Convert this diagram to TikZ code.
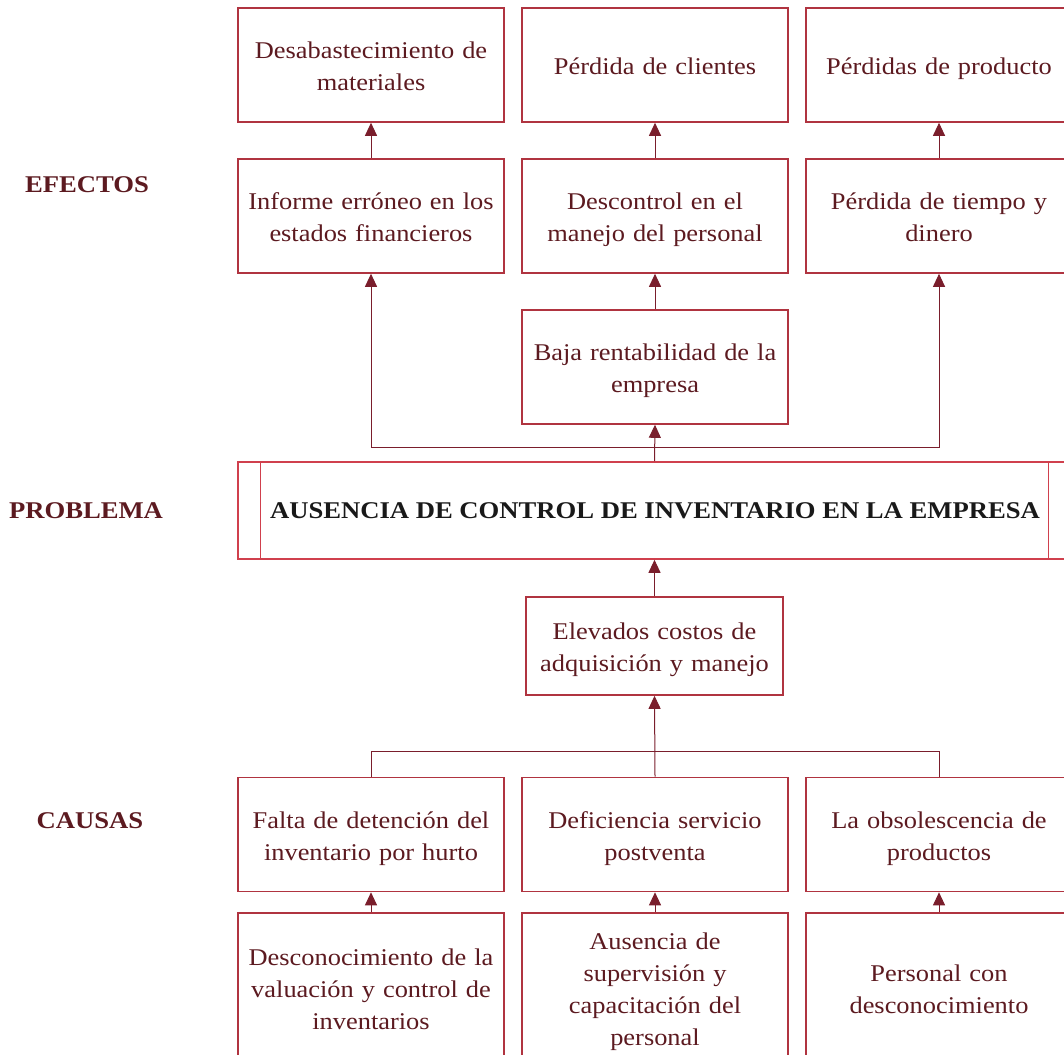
\documentclass[tikz,border=0pt]{standalone}
\usepackage{fontspec}
\setmainfont{Liberation Serif}
\newfontfamily\bodyf[FakeStretch=1.1]{Liberation Serif}
\newfontfamily\capf[FakeStretch=1.11]{Liberation Serif}
\usetikzlibrary{arrows.meta}
\definecolor{boxc}{HTML}{B03440}
\definecolor{probc}{HTML}{D0404D}
\definecolor{linec}{HTML}{7A1E2C}
\definecolor{txtc}{HTML}{5C1A20}
\tikzset{
  x=1pt,y=-1pt,
  bx/.style={draw=boxc,line width=1.6pt,minimum width=266pt,minimum height=114pt,
     text width=262pt,align=center,text=txtc,inner sep=0pt,
     font=\bodyf\fontsize{24}{32}\selectfont,
     execute at begin node={\rule{0pt}{29pt}}, execute at end node=\strut},
  conn/.style={draw=linec,line width=1pt},
  arr/.style={conn,-{Triangle[width=12pt,length=13pt]}},
  lbl/.style={text=txtc,font=\capf\fontsize{24}{28}\selectfont\bfseries},
}
\begin{document}
\begin{tikzpicture}
\useasboundingbox (0,0) rectangle (1064,1054);
\clip (0,0) rectangle (1064,1054);
% top row
\node[bx] (desab) at (371,65) {Desabastecimiento de\\materiales};
\node[bx] (clien) at (655,65) {Pérdida de clientes};
\node[bx] (prod) at (939,65) {Pérdidas de producto};
% second row
\node[bx] (inf) at (371,216) {Informe erróneo en los\\estados financieros};
\node[bx] (descon) at (655,216) {Descontrol en el\\manejo del personal};
\node[bx] (tiempo) at (939,216) {Pérdida de tiempo y\\dinero};
% baja
\node[bx] (baja) at (655,367) {Baja rentabilidad de la\\empresa};
% problem
\node[draw=probc,line width=1.6pt,minimum width=833pt,minimum height=97pt,inner sep=0pt] (prob) at (654.5,510.5) {};
\draw[draw=probc,line width=1.2pt] ([xshift=23pt]prob.north west) -- ([xshift=23pt]prob.south west);
\draw[draw=probc,line width=1.2pt] ([xshift=-23pt]prob.north east) -- ([xshift=-23pt]prob.south east);
\node[text=black!90,font=\capf\fontsize{24}{28}\selectfont\bfseries] (probt) at (655,511) {AUSENCIA DE CONTROL DE INVENTARIO EN LA EMPRESA};
% elevados
\node[bx,minimum width=257pt,text width=250pt,minimum height=98pt] (elev) at (654.5,646) {Elevados costos de\\adquisición y manejo};
% causes
\node[bx] (falta) at (371,834.5) {Falta de detención del\\inventario por hurto};
\node[bx] (defic) at (655,834.5) {Deficiencia servicio\\postventa};
\node[bx] (obs) at (939,834.5) {La obsolescencia de\\productos};
% bottom row
\node[bx,minimum height=150pt] (desc) at (371,988) {Desconocimiento de la\\valuación y control de\\inventarios};
\node[bx,minimum height=150pt] (ause) at (655,988) {Ausencia de\\supervisión y\\capacitación del\\personal};
\node[bx,minimum height=150pt] (pers) at (939,988) {Personal con\\desconocimiento};
% labels
\node[lbl] (lefe) at (87,185) {EFECTOS};
\node[lbl] (lpro) at (86,511) {PROBLEMA};
\node[lbl] (lcau) at (90,821) {CAUSAS};
% connectors effects
\draw[arr] (inf.north) -- (desab.south);
\draw[arr] (descon.north) -- (clien.south);
\draw[arr] (tiempo.north) -- (prod.south);
\draw[arr] (baja.north) -- (descon.south);
\draw[arr] (prob.north) -- (baja.south);
\coordinate (split) at (655,447);
\draw[arr] (split) -| (inf.south);
\draw[arr] (split) -| (tiempo.south);
% connectors causes
\draw[arr] (elev.north) -- (prob.south);
\coordinate (join) at (655,751);
\draw[conn] (falta.north) |- (join);
\draw[conn] (obs.north) |- (join);
\draw[arr] (defic.north) -- (elev.south);
\draw[arr] (desc.north) -- (falta.south);
\draw[arr] (ause.north) -- (defic.south);
\draw[arr] (pers.north) -- (obs.south);
\end{tikzpicture}
\end{document}
